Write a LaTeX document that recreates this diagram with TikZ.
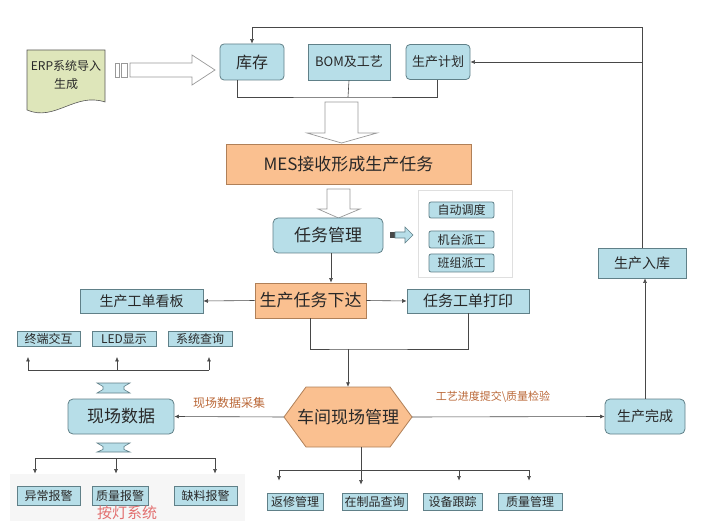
\documentclass[tikz,border=0pt]{standalone}
\usepackage{fontspec}
\setmainfont{Noto Sans CJK SC}
\usepackage{xcolor}
\usepackage{tikz}
\usetikzlibrary{arrows.meta,positioning,calc}
\definecolor{softteal}{RGB}{183,222,232}
\definecolor{tealline}{RGB}{96,128,136}
\definecolor{softorange}{RGB}{250,192,144}
\definecolor{orangeline}{RGB}{176,128,88}
\definecolor{softolive}{RGB}{222,230,186}
\definecolor{linegray}{RGB}{72,72,72}
\definecolor{darktext}{RGB}{40,40,40}
\definecolor{labelbrown}{RGB}{186,104,56}
\definecolor{lampred}{RGB}{226,112,112}
\definecolor{panelgray}{RGB}{246,246,246}

\begin{document}
\begin{tikzpicture}[x=1pt, y=-1pt, every node/.style={text=darktext, inner sep=0pt},
    f11/.style={font=\fontsize{11}{13}\selectfont},
    f12/.style={font=\fontsize{12}{14}\selectfont},
    f14/.style={font=\fontsize{14}{16}\selectfont},
    f17/.style={font=\fontsize{17}{19}\selectfont},
    tealbox/.style={draw=tealline, fill=softteal, line width=0.8pt},
    orangebox/.style={draw=orangeline, fill=softorange, line width=0.8pt},
    line/.style={draw=linegray, line width=0.6pt},
    arr/.style={line, -{Latex[length=4.5pt,width=4pt]}},
    hollow/.style={draw=gray!80, fill=white, line width=0.7pt},
    beam/.style={draw=tealline, fill=softteal, line width=0.6pt}]
    \useasboundingbox (0,0) rectangle (701,521);

    % source document and import arrow
    \path[draw=gray!70!black, fill=softolive, line width=0.6pt] (27,50) -- (105,50) -- (105,102) .. controls (75,92) and (55,122) .. (27,110) -- cycle;
    \node[font=\fontsize{12}{18}\selectfont, align=center] (erp) at (66,75) {ERP系统导入\\生成};
    \draw[hollow] (115,63) rectangle (119,77);
    \draw[hollow] (121,63) rectangle (127,77);
    \draw[hollow] (130,63) -- (192,63) -- (192,55) -- (215,70) -- (192,85) -- (192,77) -- (130,77) -- cycle;

    % top row
    \node[tealbox, rounded corners=4pt, minimum width=64pt, minimum height=36pt, font=\fontsize{16}{18}\selectfont] (kucun) at (252,62) {库存};
    \node[tealbox, minimum width=82pt, minimum height=36pt, font=\fontsize{13}{15}\selectfont] (bom) at (349,62) {BOM及工艺};
    \node[tealbox, rounded corners=4pt, minimum width=64pt, minimum height=35pt, font=\fontsize{13}{15}\selectfont] (plan) at (438,62) {生产计划};
    \coordinate (brk) at (348,97);
    \draw[line] ([xshift=-15pt]kucun.south) |- (brk) -| ([xshift=-1pt]plan.south);
    \draw[line] (bom.south) -- (brk);

    \draw[hollow] (325,102) -- (358,102) -- (358,133) -- (377,133) -- (341.5,143) -- (307,133) -- (325,133) -- cycle;
    \node[orangebox, minimum width=245pt, minimum height=40pt, f17] (mes) at (348.5,164) {MES接收形成生产任务};
    \draw[hollow] (327,189) -- (350,189) -- (350,209) -- (360,209) -- (338.5,218) -- (318,209) -- (327,209) -- cycle;

    % task management
    \node[tealbox, rounded corners=5pt, minimum width=110pt, minimum height=35pt, f17] (taskmgr) at (328,235.5) {任务管理};
    \fill[linegray] (390,232) rectangle (395,238);
    \draw[beam] (395,232) -- (405,232) -- (405,227) -- (413,235) -- (405,243) -- (405,238) -- (395,238) -- cycle;
    \node[draw=gray!25, fill=white, minimum width=94pt, minimum height=87pt] (panel) at (465,233.5) {};
    \node[tealbox, rounded corners=2pt, minimum width=65pt, minimum height=16pt, f12] (auto) at (461.5,210) {自动调度};
    \node[tealbox, rounded corners=2pt, minimum width=65pt, minimum height=17pt, f12] (machine) at (461.5,239.5) {机台派工};
    \node[tealbox, rounded corners=2pt, minimum width=65pt, minimum height=18pt, f12] (team) at (461.5,263) {班组派工};

    % release
    \node[orangebox, minimum width=111pt, minimum height=35pt, f17] (release) at (310.5,300.5) {生产任务下达};
    \node[tealbox, minimum width=123pt, minimum height=24pt, f14] (board) at (141.5,301) {生产工单看板};
    \node[tealbox, minimum width=122pt, minimum height=24pt, font=\fontsize{15}{17}\selectfont] (print) at (468,301) {任务工单打印};
    \draw[arr] ([xshift=3pt]taskmgr.south) -- ([xshift=3pt]taskmgr.south |- release.north);
    \draw[arr] (release.west) -- (board.east);
    \draw[arr] (release.east) -- (print.west);
    \coordinate (merge) at (348,349);
    \draw[line] (release.south) |- (merge) -| (print.south);

    % shop floor
    \path[orangebox] (284,417) -- (306,387) -- (390,387) -- (412,417) -- (390,447) -- (306,447) -- cycle;
    \node[f17, minimum width=128pt, minimum height=60pt] (shop) at (348,417) {车间现场管理};
    \draw[arr] (merge) -- (shop.north);

    \node[tealbox, rounded corners=5pt, minimum width=106pt, minimum height=35pt, f17] (data) at (121,416.5) {现场数据};
    \node[tealbox, rounded corners=5pt, minimum width=80pt, minimum height=35pt, f14] (done) at (645,416.5) {生产完成};
    \node[tealbox, minimum width=88pt, minimum height=30pt, f14] (stock) at (642,263) {生产入库};
    \draw[arr] (shop.west) -- (data.east) node[pos=0.5, above=8pt, f12, text=labelbrown] (collect) {现场数据采集};
    \draw[arr] (shop.east) -- (done.west) node[pos=0.42, above=14pt, f11, text=labelbrown] (report) {工艺进度提交\textbackslash 质量检验};
    \draw[arr] (done.north) -- (done.north |- stock.south);
    \coordinate (topline) at (643,27);
    \draw[arr] (stock.north) |- (kucun.north |- topline) -- (kucun.north);
    \draw[arr] (stock.north |- plan.east) -- (plan.east);

    % display terminals
    \node[tealbox, minimum width=63pt, minimum height=15pt, f12] (term) at (48.5,339) {终端交互};
    \node[tealbox, minimum width=64pt, minimum height=15pt, f12] (led) at (124,339) {LED显示};
    \node[tealbox, minimum width=64pt, minimum height=15pt, f12] (query) at (200,339) {系统查询};
    \coordinate (ua) at (28,370);
    \coordinate (ub) at (117,370);
    \coordinate (uc) at (209,370);
    \draw[line] (ua) -- (uc);
    \foreach \c/\n in {ua/term, ub/led, uc/query}
        \draw[arr, shorten >=10pt] (\c) -- (\c |- \n.south);
    \draw[beam] (97,383) -- (130,383) -- (124,386.5) -- (124,389.5) -- (130,393) -- (97,393) -- (103,389.5) -- (103,386.5) -- cycle;
    \draw[beam] (97,443) -- (130,443) -- (124,446.5) -- (124,449.5) -- (130,452) -- (97,452) -- (103,449.5) -- (103,446.5) -- cycle;

    % andon system
    \fill[panelgray] (10,474) rectangle (245,521);
    \node[tealbox, minimum width=63pt, minimum height=19pt, f12] (alarm) at (48.5,495.5) {异常报警};
    \node[tealbox, minimum width=56pt, minimum height=19pt, f12] (qalarm) at (120,495.5) {质量报警};
    \node[tealbox, minimum width=63pt, minimum height=19pt, f12] (malarm) at (205.5,495.5) {缺料报警};
    \node[font=\fontsize{15}{17}\selectfont, text=lampred] (andon) at (127,513) {按灯系统};
    \coordinate (da) at (35,458);
    \coordinate (db) at (116,458);
    \coordinate (dc) at (215,458);
    \draw[line] (da) -- (dc);
    \foreach \c/\n in {da/alarm, db/qalarm, dc/malarm}
        \draw[arr, shorten >=12pt] (\c) -- (\c |- \n.north);

    % shop floor functions
    \node[tealbox, minimum width=56pt, minimum height=17pt, f12] (repair) at (295,501.5) {返修管理};
    \node[tealbox, minimum width=65pt, minimum height=17pt, f12] (wip) at (374.5,501.5) {在制品查询};
    \node[tealbox, minimum width=59pt, minimum height=17pt, f12] (equip) at (452.5,501.5) {设备跟踪};
    \node[tealbox, minimum width=64pt, minimum height=17pt, f12] (quality) at (530,501.5) {质量管理};
    \coordinate (ma) at (279,470);
    \coordinate (mb) at (361,470);
    \coordinate (mc) at (459,470);
    \coordinate (md) at (529,470);
    \draw[line] (ma) -- (md);
    \draw[arr, shorten >=8pt] (mb |- shop.south) -- (mb |- wip.north);
    \foreach \c/\n in {ma/repair, mc/equip, md/quality}
        \draw[arr, shorten >=12pt] (\c) -- (\c |- \n.north);
\end{tikzpicture}
\end{document}
